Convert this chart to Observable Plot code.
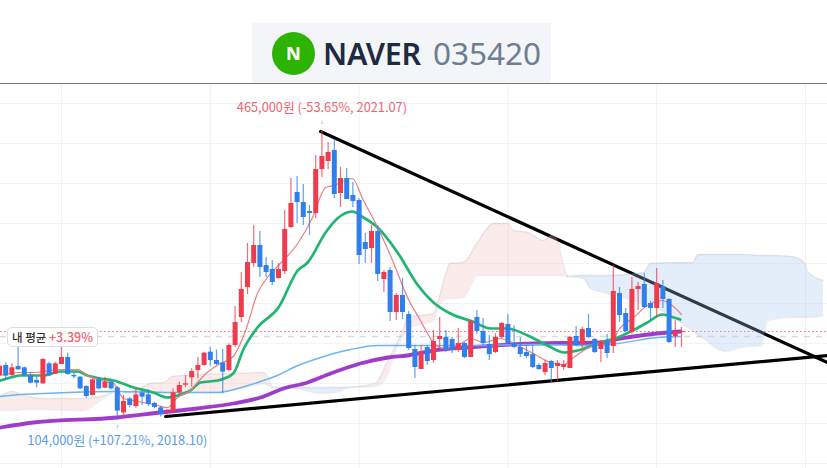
<!DOCTYPE html>
<html><head><meta charset="utf-8">
<script src="https://cdn.jsdelivr.net/npm/d3@7"></script>
<script src="https://cdn.jsdelivr.net/npm/@observablehq/plot@0.6"></script>
<style>
html,body{margin:0;padding:0;background:#fff;width:827px;overflow:hidden}
#head{position:relative;height:83px;border-bottom:1px solid #777;box-sizing:content-box}
#box{position:absolute;left:252px;top:23px;width:299px;height:60px;background:#f3f5f8}
#logo{position:absolute;left:272px;top:32px;width:43px;height:43px;border-radius:50%;background:#2db400;color:#f4fbf2;font:800 18px/43px "Noto Sans",sans-serif;text-align:center}
#name{position:absolute;left:323px;top:31px;font:600 30.5px/44px "Noto Sans",sans-serif;letter-spacing:-.3px;color:#1e2a3e;white-space:nowrap}
#code{position:absolute;left:433px;top:31px;font:400 31.5px/44px "Noto Sans",sans-serif;color:#6d7e94;white-space:nowrap}
#wrap{position:relative;height:384px}
#pill{position:absolute;left:7px;top:243px;width:89px;height:18px;border:1.5px solid #dcdee2;border-radius:5px;background:rgba(255,255,255,.92);font:500 11.5px/18px "Noto Sans CJK KR",sans-serif;color:#333;text-align:center;white-space:nowrap}
#pill b{font-weight:500;color:#f0626f;font-size:12.5px}
svg{display:block}
</style></head><body>
<div id="head"><div id="box"></div><div id="logo">N</div><div id="name">NAVER</div><div id="code">035420</div></div>
<div id="wrap"><div id="chart"></div><div id="pill">내 평균 <b>+3.39%</b></div></div>
<script>
// months since 2018.01; prices in thousand won
const months = d3.range(-10, 101);
const opens = [160,172.5,160,171.2,169.6,159.6,153.75,149.6,174.6,161.7,173.75,182.5,160,157.9,146.25,135,154.6,144.2,151.7,144.6,113.3,130.8,121.25,138.3,135.8,125,119.6,113.3,114.2,138.3,147.9,157.1,166.25,172.5,189.2,178.75,175.8,166.25,197.5,232.5,270,300,322.5,297.5,292.5,281.25,290,345,388.75,376.25,365,362.5,417.5,427.5,441.25,387.5,406.25,385,378.75,326.25,318.75,340,280,291.25,238.75,260,236.25,192.5,167.5,195,178.75,205,207.5,205,191.25,200,182.5,232.5,215,198.75,188.75,207.5,223.75,200,195,188.75,186.25,172.5,163.75,177.5,171.25,170,168.75,208.75,198.75,218.75,205,192.5,202.5,196.25,262.5,237.5,213.75,267.5,273.75,250,243.75,271.25,255,208.75,213.75];
const closes = [171.7,159.2,169.6,167.1,160,150.4,150.4,180,159.6,174.6,182.5,161.25,158.3,143.3,133.75,154.6,143.3,151.7,143.3,115.4,127.5,122.5,135.8,132.9,123.75,120,111.25,115,138.3,147.5,149.6,165,172.5,187.9,178.75,173.75,164.2,197.5,226.25,267.5,301.25,322.5,295,288.75,276.25,292.5,342.5,375,376.25,357.5,362.5,417.5,433.75,438.75,386.25,406.25,380,377.5,310,317.5,340,286.25,288.75,238.75,260,238.75,193.75,170,187.5,177.5,202.5,208.75,191.25,191.25,200,182.5,227.5,215,200,186.25,207.5,225,200,195,186.25,183.75,170,167.5,175,168.75,175,173.75,207.5,197.5,217.5,207.5,188.75,202.5,187.5,265,235,215,267.5,271.25,245,243.75,275,255,201.25,213.75,215];
const highs = [176.7,175.8,174.6,195.4,170.4,164.2,158.75,180.8,176.7,176.7,196.25,187.9,164.2,158.75,147.5,155.8,157.1,157.9,152.5,146.25,135,132.9,143.3,141.25,142.1,126.7,121.25,117.1,143.3,151.7,160,168.3,182.9,189.2,195.4,192,192.5,199.6,246.25,288.75,325,347.5,340,307.5,303.75,300,366.25,406.25,408.75,398.75,372.5,435,465,451.25,455,420,418.75,401.25,381.25,337.5,347.5,347.5,291.25,295,262.5,281.25,240,197.5,197.5,197.5,216.25,232.5,216.25,207.5,218.75,201.25,228.75,241.25,231.25,210,212.5,226.25,236.25,222.5,207.5,197.5,197.5,175,178.75,178.75,178.75,178.75,208.75,221.25,220,236.25,206.25,203.75,211.25,297.5,270,243.75,282.5,276.25,287.5,252.5,293.75,278.75,256.25,228.75,220];
const lows = [153.75,153.8,159.2,166.2,158.75,149.6,144.6,148.75,158.75,161.25,173.75,160.4,155.8,142.5,131.7,134.2,142.1,143.3,142.1,104,107,119.6,119.2,122.5,121.25,118.3,108,110,112.9,132.9,144.6,145.4,155.8,171.7,171.7,172.5,137.1,164.2,195,226.25,261.25,295,282.5,282.5,272.5,280,286.25,343.75,350,347.5,335,356.25,407.5,417.5,381.25,370,380,370,298.75,300,300,277.5,263.75,227.5,228.75,230,191.25,156.25,167.5,172.5,175,193.75,188.75,187.5,188.75,181.25,182.5,211.25,197.5,178.75,187.5,206.25,200,193.75,182.5,181.25,168.75,166.25,160,151.25,152.5,166.25,168.75,196.25,193.75,206.25,187.5,176.25,181.25,187.5,226.25,213.75,211.25,241.25,243.75,228.75,232.5,243.75,200,195,195];

const ma5M = [-9.84,-7.1,-4.5,-0.2,2.6,4.2,6.3,8.4,10,11.6,13.2,15.5,17.1,18.7,20.8,21.9,23.5,25.6,27.7,29.7,31.6,33.2,35.3,38.1,40.5,42.6,43.9,46.9,48.7,51,53.4,55.8,57.9,60,61.6,63.9,66,68.1,70.8,73.5,76.1,78.9,81,82.6,84.8,86.9,89,89.7,92.3,94.5,96.9,98.5,100];
const ma5V = [160,163.75,163.75,167.5,167.5,160,153.75,150,131.25,128.75,126.25,122.5,120,132.5,141.25,151.25,163.75,175,183.75,216.25,262.5,282.5,300,325,357.5,395,397.5,406.25,378.75,345,303.75,257.5,228.75,201.25,193.75,197.5,206.25,201.25,206.25,197.5,187.5,176.25,173.75,182.5,193.75,200,203.75,215,232.5,247.5,253.75,247.5,236.25];
const ma20M = [-9.84,-8.2,-6.6,-2.9,-0.2,2.6,4.2,6.3,8.4,11.6,14.8,17.1,18.7,20.8,22.4,25.2,27.7,29.4,31.6,35,38.1,39.7,42.6,44.5,46.9,48.7,51,54.2,57.4,60,62.7,66.3,69.2,71.9,75.2,78.4,81,83.2,86.9,89.7,92.1,94.5,96.9,98.2,99.8];
const ma20V = [153.75,157.5,160,160,165,165,160,156.25,153.75,145,138.75,132.5,135,141.25,151.25,153.75,162.5,193.75,220,245,291.25,301.25,338.75,356.25,365,357.5,345,313.75,273.75,251.25,237.5,227.5,218.75,218.75,210,197.5,188.75,191.25,201.25,207.5,216.25,226.25,236.25,233.75,230];
const ma60M = [-9.84,-6.6,-2.9,1,8.4,19.7,25.2,28.4,32.1,34.8,37.4,41.8,46.6,51,55.8,65.5,76.1,85.3,89.7,96.1,99.8];
const ma60V = [133.75,136.25,137.5,138.75,140,138.75,138.75,143.75,152.5,160,170,182.5,192.5,197.5,197.5,197.5,198.75,197.5,200,207.5,208.75];
const ma120M = [-9.84,-4.5,9,16,21.9,27.7,32.1,35.8,39.7,43.4,48.2,52.7,55.8,60,65.5,76.1,86.9,90.2,93.4,99.8];
const ma120V = [95,101.25,107.5,113.75,118.75,125,132.5,143.75,151.25,162.5,175,182.5,185,191.25,195,200,201.25,206.25,210,215];

const red1M = [-9.84,-7.9,-6.1,-2.9,3.5,6.3,8.4];
const red1Top = [135,140,135,131.25,131.25,133.75,140];
const red1Bot = [116.25,116.25,117.5,117.5,116.25,128.75,140];
const red2M = [10.3,12.7,14.4,16.5,17.9,22.4,28.4,32.6,33.4,34];
const red2Top = [138.75,143.75,150,151.25,158.75,161.25,162.5,163.75,156.25,145];
const red2Bot = [138.75,137.5,137.5,137.5,138.75,138.75,142.5,150,147.5,145];
const blue1M = [34,38.5,41.8,45,46.1];
const blue1Top = [145,145,145,145,145];
const blue1Bot = [145,142.5,137.5,140,145];
const red3M = [46.1,50.6,52.3,53.9,55.2,55.8,60,60.9,62,62.7,64.8,67.1,69.7,71.9,72.9,75.3,77.7,79.2,80,81,81.6];
const red3Top = [145,150,172.5,197.5,218.75,232.5,237.5,256.25,287.5,300,301.25,326.25,350,350,341.25,338.75,328.75,335,328.75,297.5,283.75];
const red3Bot = [145,146.25,156.25,191.25,210,218.75,228.75,247.5,256.25,256.25,257.5,285,285,285,285,285,285,285,285,285,283.75];
const blue2M = [81.6,84.2,85.3,88.1,93.9,95,101,101.8,102.7,103.6,105.5,107.1,109.5,113,113.9,117.6,119.7,120.5,122.9];
const blue2Top = [283.75,285,285,285,288.75,300,301.25,301.25,311.25,311.25,311.25,311.25,311.25,310,310,308.75,302.5,288.75,278.75];
const blue2Bot = [283.75,281.25,268.75,262.5,250,247.5,220,216.25,210,206.25,195,190,195,197.5,228.75,232.5,232.5,232.5,235];

const upperTrendM = [41.8,123.55], upperTrendV = [465,176.25];
const lowerTrendM = [16.8,123.55], lowerTrendV = [108.75,185];
const yearTicks = [0,24,48,72,96,120];
const priceTicks = [500,450,400,350,300,250,200,150,100,50];
const avgPrice = 215, prevLine = 208.75;
const peak = {m:42, p:465, label:"465,000원 (-53.65%, 2021.07)"};
const trough = {m:9, p:104, label:"104,000원 (+107.21%, 2018.10)"};

const RED="#ef3b4e", BLUE="#2f7fec";
const candles = months.map((m,i)=>({m,o:opens[i],c:closes[i],h:highs[i],l:lows[i]}));
const zip = (xs,vs)=>xs.map((m,i)=>({m,p:vs[i]}));
const band = (xs,t,b)=>xs.map((m,i)=>({m,t:t[i],b:b[i]}));
const cloud = [
  [band(red1M,red1Top,red1Bot),"rgb(245,190,190)"],
  [band(red2M,red2Top,red2Bot),"rgb(245,190,190)"],
  [band(blue1M,blue1Top,blue1Bot),"rgb(165,198,238)"],
  [band(red3M,red3Top,red3Bot),"rgb(245,190,190)"],
  [band(blue2M,blue2Top,blue2Bot),"rgb(165,198,238)"]
];
const edge = "#8f9aa6";
const chart = Plot.plot({
  width:827,height:384,margin:0,
  style:{background:"transparent",fontFamily:'"Noto Sans CJK KR",sans-serif'},
  x:{domain:[-61/6.2,766/6.2],range:[0,827],axis:null},
  y:{domain:[523.75,43.75],range:[0,384],axis:null},
  marks:[
    Plot.ruleX(yearTicks,{stroke:"#f0f1f4"}),
    Plot.ruleY(priceTicks,{stroke:"#f2f3f5"}),
    Plot.ruleY([avgPrice],{stroke:"#f4707c",strokeDasharray:"1.5,2.5",strokeWidth:1.2}),
    Plot.ruleY([prevLine],{stroke:"#d9dbde",strokeDasharray:"6,6",strokeWidth:1.5}),
    Plot.line(zip(upperTrendM,upperTrendV),{x:"m",y:"p",stroke:"#000",strokeWidth:3.2}),
    Plot.line(zip(lowerTrendM,lowerTrendV),{x:"m",y:"p",stroke:"#000",strokeWidth:3.2}),
    ...cloud.flatMap(([d,col])=>[
      Plot.areaY(d,{x:"m",y1:"b",y2:"t",fill:col,fillOpacity:.3,curve:"monotone-x"}),
      Plot.line(d,{x:"m",y:"t",stroke:edge,strokeOpacity:.16,strokeWidth:1.3,curve:"monotone-x"}),
      Plot.line(d,{x:"m",y:"b",stroke:edge,strokeOpacity:.16,strokeWidth:1.3,curve:"monotone-x"})
    ]),
    Plot.line(zip(ma120M,ma120V),{x:"m",y:"p",stroke:"#a03ccb",strokeWidth:3.8,curve:"monotone-x"}),
    Plot.line(zip(ma60M,ma60V),{x:"m",y:"p",stroke:"#6cb4f2",strokeWidth:1.4,curve:"monotone-x"}),
    Plot.line(zip(ma20M,ma20V),{x:"m",y:"p",stroke:"#1fb672",strokeWidth:2.7,curve:"monotone-x"}),
    Plot.line(zip(ma5M,ma5V),{x:"m",y:"p",stroke:"#ea7d86",strokeWidth:1.2,curve:"monotone-x"}),
    Plot.ruleX(candles,{x:"m",y1:"l",y2:"h",strokeWidth:1.2,strokeOpacity:.75,stroke:d=>d.c>=d.o?RED:BLUE}),
    Plot.ruleX(candles,{x:"m",y1:"o",y2:"c",strokeWidth:5,stroke:d=>d.c>=d.o?RED:BLUE}),
    Plot.text([peak],{x:"m",y:"p",text:"label",dy:-24,fill:"#f0646f",fontSize:12.8}),
    Plot.text([peak],{x:"m",y:"p",text:()=>"↓",dy:-10,fill:"#f0646f",fontSize:5}),
    Plot.text([trough],{x:"m",y:"p",text:"label",dy:21,fill:"#5c9ceb",fontSize:12.8}),
    Plot.text([trough],{x:"m",y:"p",text:()=>"↑",dy:7,fill:"#5c9ceb",fontSize:5})
  ]
});
document.getElementById("chart").appendChild(chart);
</script>
</body></html>
